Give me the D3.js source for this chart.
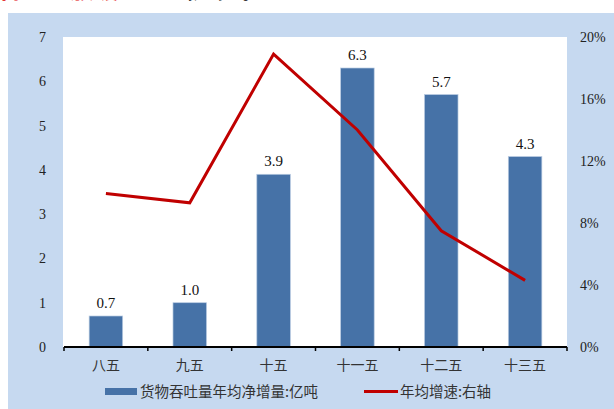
<!DOCTYPE html>
<html>
<head>
<meta charset="utf-8">
<script src="https://cdn.jsdelivr.net/npm/d3@7"></script>
<style>
  html, body { margin: 0; padding: 0; background: #ffffff; }
  svg { display: block; }
</style>
</head>
<body>
<svg id="chart" width="614" height="409"></svg>
<script>
// Port cargo throughput: average annual net increase per five-year plan, and average growth rate
const categories = ["八五", "九五", "十五", "十一五", "十二五", "十三五"];
const netIncrease = [0.7, 1.0, 3.9, 6.3, 5.7, 4.3];          // 亿吨
const growthRate = [9.9, 9.3, 18.9, 14.0, 7.5, 4.3];          // %
const leftTicks = [0, 1, 2, 3, 4, 5, 6, 7];
const rightTicks = [0, 4, 8, 12, 16, 20];
const legendLabels = ["货物吞吐量年均净增量:亿吨", "年均增速:右轴"];

const svg = d3.select("#chart");
const serif = "'Liberation Serif', 'Times New Roman', serif";
const cjk = "'Noto Sans CJK SC', sans-serif";

// heading line above the panel (runs off the top edge)
const head = svg.append("text").attr("x", -2).attr("y", -2)
  .attr("font-family", cjk).attr("font-weight", "bold").attr("font-size", 24);
head.append("tspan").attr("fill", "#e00000").text("吞吐量放缓");
head.append("tspan").attr("fill", "#000").attr("dx", 51).text("（趋见。");

// panel background
svg.append("rect").attr("x", 8).attr("y", 13).attr("width", 606).attr("height", 396)
  .attr("fill", "#c6d9f0");

const plot = { left: 64, right: 567, top: 37, bottom: 347 };

// plot area
svg.append("rect").attr("x", 63).attr("y", plot.top).attr("width", plot.right - 63)
  .attr("height", plot.bottom - plot.top).attr("fill", "#ffffff");

const x = d3.scaleBand().domain(categories).range([plot.left, plot.right])
  .paddingInner(0.6).paddingOuter(0.3);
const xPoint = c => x(c) + x.bandwidth() / 2;
const yL = d3.scaleLinear().domain([0, 7]).range([plot.bottom, plot.top]);
const yR = d3.scaleLinear().domain([0, 20]).range([plot.bottom, plot.top]);

// bars
svg.append("g").selectAll("rect").data(categories).join("rect")
  .attr("x", c => x(c))
  .attr("y", (c, i) => yL(netIncrease[i]))
  .attr("width", x.bandwidth())
  .attr("height", (c, i) => yL(0) - yL(netIncrease[i]))
  .attr("fill", "#4672a7")
  .attr("stroke", "#b9cbe2").attr("stroke-width", 0.7);

// bar value labels
svg.append("g").selectAll("text").data(categories).join("text")
  .attr("x", c => xPoint(c))
  .attr("y", (c, i) => yL(netIncrease[i]) - 8)
  .attr("text-anchor", "middle")
  .attr("font-family", serif).attr("font-size", 15).attr("fill", "#111")
  .text((c, i) => netIncrease[i].toFixed(1));

// growth-rate line on the right axis
const line = d3.line().x((d, i) => xPoint(categories[i])).y(d => yR(d));
svg.append("path").datum(growthRate)
  .attr("d", line)
  .attr("fill", "none").attr("stroke", "#c00000").attr("stroke-width", 3)
  .attr("stroke-linejoin", "miter");

// left axis labels
const leftAxis = d3.axisLeft(yL).tickValues(leftTicks).tickSize(0).tickPadding(16)
  .tickFormat(d3.format("d"));
const gl = svg.append("g").attr("transform", `translate(${plot.left - 2},0)`).call(leftAxis);
gl.select(".domain").remove();
gl.selectAll("text").attr("font-family", serif).attr("font-size", 14).attr("fill", "#222");

// right axis labels
const rightAxis = d3.axisRight(yR).tickValues(rightTicks).tickSize(0).tickPadding(13)
  .tickFormat(d => d + "%");
const gr = svg.append("g").attr("transform", `translate(${plot.right},0)`).call(rightAxis);
gr.select(".domain").remove();
gr.selectAll("text").attr("font-family", serif).attr("font-size", 14).attr("fill", "#222");

// category axis with boundary ticks
const boundaries = categories.map(c => x(c) - x.step() * x.paddingInner() / 2)
  .concat([plot.right]);
const gx = svg.append("g");
gx.append("line").attr("x1", plot.left).attr("x2", plot.right)
  .attr("y1", plot.bottom).attr("y2", plot.bottom)
  .attr("stroke", "#000").attr("stroke-width", 2.2);
gx.selectAll("line.tick").data(boundaries).join("line").attr("class", "tick")
  .attr("x1", d => d).attr("x2", d => d)
  .attr("y1", plot.bottom).attr("y2", plot.bottom + 4)
  .attr("stroke", "#000").attr("stroke-width", 1.5);
gx.selectAll("text").data(categories).join("text")
  .attr("x", c => xPoint(c)).attr("y", plot.bottom + 23)
  .attr("text-anchor", "middle")
  .attr("font-family", cjk).attr("font-size", 14).attr("fill", "#333")
  .text(c => c);

// legend
const lg = svg.append("g");
lg.append("rect").attr("x", 105).attr("y", 388).attr("width", 32).attr("height", 7)
  .attr("fill", "#4672a7");
lg.append("text").attr("x", 140).attr("y", 397)
  .attr("font-family", cjk).attr("font-size", 14.5).attr("fill", "#333")
  .text(legendLabels[0]);
lg.append("line").attr("x1", 364).attr("x2", 398).attr("y1", 391.5).attr("y2", 391.5)
  .attr("stroke", "#c00000").attr("stroke-width", 3);
lg.append("text").attr("x", 400).attr("y", 397)
  .attr("font-family", cjk).attr("font-size", 14.5).attr("fill", "#333")
  .text(legendLabels[1]);
</script>
</body>
</html>
